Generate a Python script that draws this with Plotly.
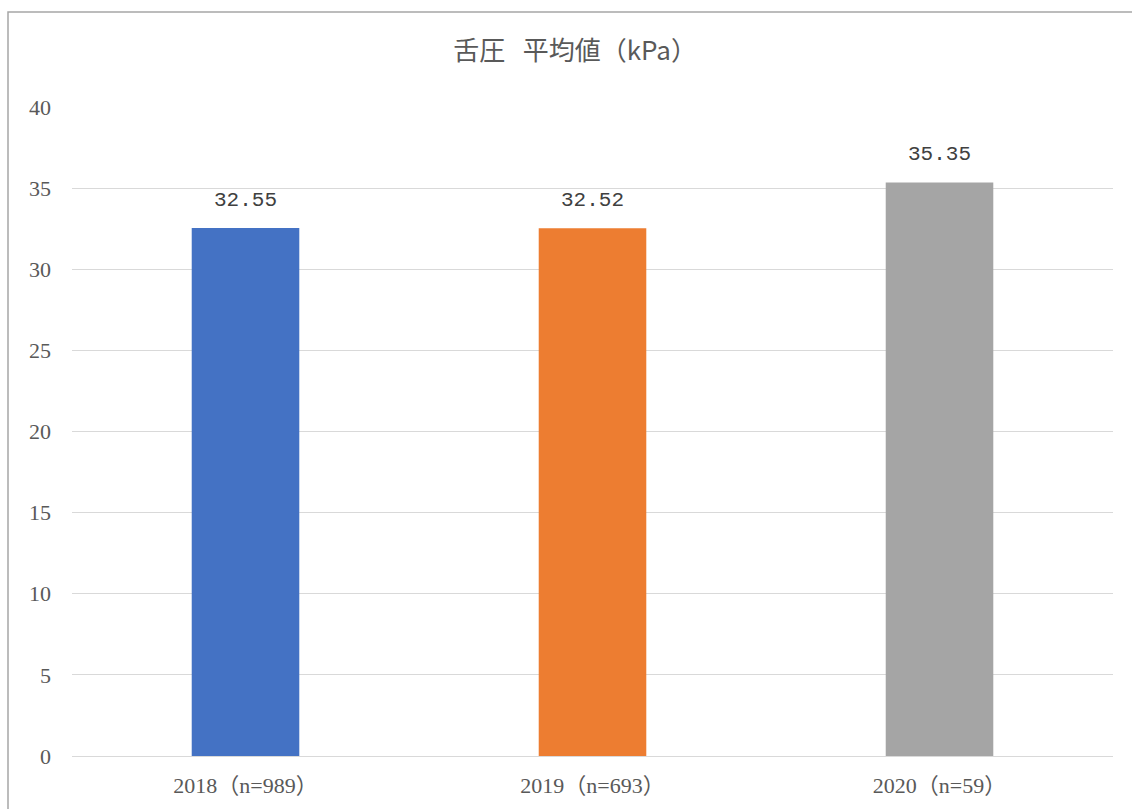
import plotly.graph_objects as go

# Mean tongue pressure by survey year
categories = ["2018（n=989）", "2019（n=693）", "2020（n=59）"]
values = [32.55, 32.52, 35.35]
bar_colors = ["#4472C4", "#ED7D31", "#A5A5A5"]
y_ticks = [0, 5, 10, 15, 20, 25, 30, 35, 40]

serif = "Liberation Serif, Noto Sans CJK JP, serif"
text_gray = "#595959"

fig = go.Figure(
    go.Bar(
        x=categories,
        y=values,
        marker=dict(color=bar_colors, line=dict(width=0)),
        width=0.31,
        hoverinfo="x+y",
    )
)

# Value labels above each bar
for cat, v in zip(categories, values):
    fig.add_annotation(
        x=cat,
        y=v,
        text=f"{v:.2f}",
        showarrow=False,
        yanchor="bottom",
        yshift=14,
        font=dict(family="Liberation Mono, monospace", size=21, color="#404040"),
    )

fig.update_layout(
    width=1132,
    height=809,
    margin=dict(l=72, r=19, t=107, b=53),
    paper_bgcolor="white",
    plot_bgcolor="white",
    showlegend=False,
    title=dict(
        text="舌圧   平均値（kPa）",
        x=0.508,
        xanchor="center",
        y=0.937,
        yanchor="middle",
        font=dict(family="Noto Sans CJK JP, sans-serif", size=26, color=text_gray),
    ),
    shapes=[
        dict(
            type="rect",
            xref="paper",
            yref="paper",
            x0=-64 / 1041,
            x1=1.05,
            y0=-0.2,
            y1=1 + 95 / 649,
            line=dict(color="#A6A6A6", width=1.5),
            fillcolor="rgba(0,0,0,0)",
            layer="below",
        )
    ],
)

fig.update_yaxes(
    range=[0, 40],
    tickvals=y_ticks,
    showgrid=True,
    gridcolor="#D9D9D9",
    gridwidth=1.3,
    zeroline=False,
    showline=False,
    ticks="",
    automargin=False,
    ticklabelstandoff=20,
    tickfont=dict(family=serif, size=22, color=text_gray),
)

fig.update_xaxes(
    showline=True,
    linecolor="#D9D9D9",
    linewidth=1.3,
    ticks="",
    automargin=False,
    ticklabelstandoff=9,
    tickfont=dict(family=serif, size=22, color=text_gray),
)

fig.write_html("out.html")
